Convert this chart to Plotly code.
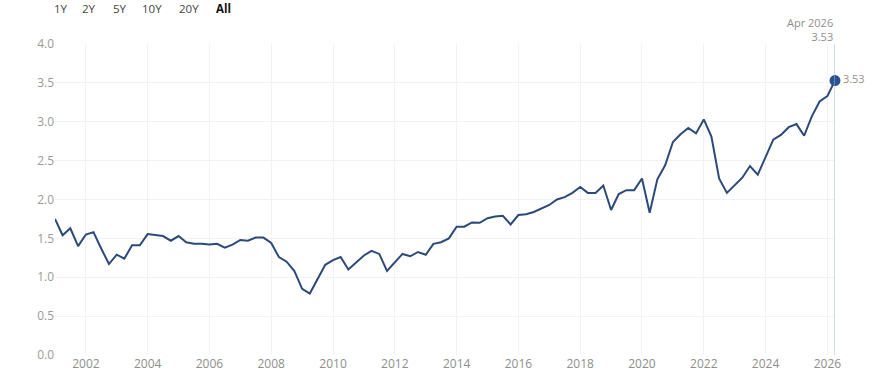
import plotly.graph_objects as go
import pandas as pd

quarters = pd.date_range("2001-01-01", "2026-04-01", freq="QS").strftime("%Y-%m-%d").tolist()

values = [
    1.75, 1.54, 1.63, 1.40,
    1.55, 1.58, 1.37, 1.17,
    1.29, 1.24, 1.41, 1.41,
    1.555, 1.54, 1.53, 1.47,
    1.53, 1.45, 1.43, 1.43,
    1.42, 1.43, 1.38, 1.42,
    1.48, 1.47, 1.51, 1.51,
    1.44, 1.26, 1.20, 1.08,
    0.85, 0.79, 0.98, 1.16,
    1.22, 1.26, 1.10, 1.19,
    1.28, 1.34, 1.30, 1.08,
    1.19, 1.30, 1.27, 1.325,
    1.29, 1.43, 1.45, 1.50,
    1.65, 1.65, 1.705, 1.70,
    1.76, 1.78, 1.79, 1.68,
    1.80, 1.81, 1.84, 1.885,
    1.93, 2.00, 2.03, 2.085,
    2.16, 2.085, 2.085, 2.18,
    1.865, 2.07, 2.12, 2.12,
    2.27, 1.83, 2.26, 2.44,
    2.74, 2.84, 2.92, 2.85,
    3.03, 2.81, 2.27, 2.085,
    2.18, 2.28, 2.43, 2.32,
    2.545, 2.77, 2.83, 2.93,
    2.97, 2.82, 3.07, 3.26,
    3.33, 3.53,
]

range_buttons = ["1Y", "2Y", "5Y", "10Y", "20Y", "All"]
button_x = [61, 89, 120, 152, 189, 223]
y_ticks = [0.0, 0.5, 1.0, 1.5, 2.0, 2.5, 3.0, 3.5, 4.0]
last_label = "Apr 2026"

FONT = "Open Sans"
LINE = "#2b4a7a"

fig = go.Figure()
fig.add_trace(go.Scatter(
    x=quarters, y=values, mode="lines",
    line=dict(color=LINE, width=2), hoverinfo="skip", showlegend=False,
))
fig.add_trace(go.Scatter(
    x=[quarters[-1]], y=[values[-1]], mode="markers+text",
    marker=dict(color="#2a5290", size=11),
    text=[f"{values[-1]:.2f}"], textposition="middle right",
    textfont=dict(family=FONT, size=11, color="#9b9088"),
    hoverinfo="skip", showlegend=False, cliponaxis=False,
))

fig.add_shape(type="line", xref="x", yref="paper",
              x0=quarters[-1], x1=quarters[-1], y0=0, y1=1.0,
              line=dict(color="#a9b6cc", width=1))

fig.add_annotation(xref="x", yref="paper", x=quarters[-1], y=1.0,
                   text=f"{last_label}<br>{values[-1]:.2f}",
                   showarrow=False, xanchor="right", yanchor="bottom",
                   align="right", yshift=-2,
                   font=dict(family=FONT, size=11, color="#8e8e8e"))

for label, bx in zip(range_buttons, button_x):
    is_all = label == "All"
    fig.add_annotation(xref="paper", yref="paper",
                       x=(bx - 55) / 780, y=(363 - 8) / 319,
                       text=f"<b>{label}</b>" if is_all else label,
                       showarrow=False, xanchor="center", yanchor="middle",
                       font=dict(family=FONT, size=11.5,
                                 color="#111111" if is_all else "#444444"))

fig.update_layout(
    width=890, height=384,
    margin=dict(l=55, r=55, t=44, b=21),
    paper_bgcolor="white", plot_bgcolor="white",
    hovermode=False,
    font=dict(family=FONT, size=11, color="#8e8e8e"),
    xaxis=dict(
        type="date", range=[quarters[0], quarters[-1]],
        dtick="M24", tick0="2002-01-01", tickformat="%Y",
        showgrid=True, gridcolor="#f2f2f2", gridwidth=1,
        zeroline=False, showline=False, ticks="",
        tickfont=dict(family=FONT, size=12, color="#8e8e8e"),
    ),
    yaxis=dict(
        range=[0, 4], tickvals=y_ticks,
        ticktext=[f"{v:.1f}" for v in y_ticks],
        showgrid=True, gridcolor="#f2f2f2", gridwidth=1,
        zeroline=False, showline=False, ticks="",
        tickfont=dict(family=FONT, size=12, color="#9a9a9a"),
    ),
)

fig.write_html("out.html", config={"displayModeBar": False},
               post_script="document.body.style.margin='0';document.body.style.overflow='hidden';")
